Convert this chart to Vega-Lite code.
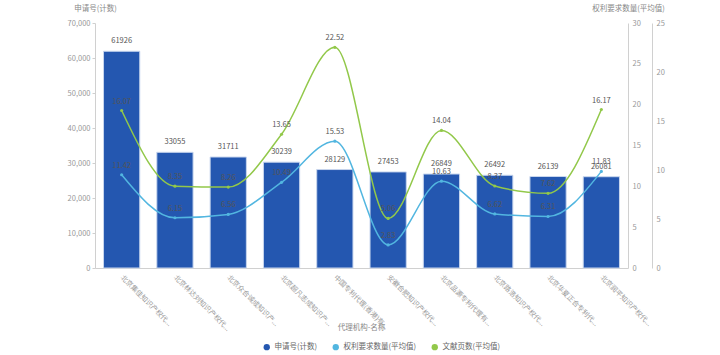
{
  "$schema": "https://vega.github.io/schema/vega-lite/v6.json",
  "width": 533,
  "height": 245,
  "autosize": "none",
  "padding": {"left": 95, "top": 23, "right": 92, "bottom": 87},
  "background": "white",
  "config": {
    "font": "Noto Sans CJK SC",
    "view": {"stroke": null},
    "axis": {"labelColor": "#999999", "titleColor": "#888888", "labelFontSize": 7.5, "titleFontSize": 7.5, "titleFontWeight": "normal", "domainColor": "#d0d0d0", "tickColor": "#d0d0d0", "grid": false}
  },
  "data": {
    "values": [
      {"name": "北京集佳知识产权代...", "count": 61926, "claims": 11.42, "pages": 16.07},
      {"name": "北京林达刘知识产权代...", "count": 33055, "claims": 6.15, "pages": 8.35},
      {"name": "北京众合诚成知识产...", "count": 31711, "claims": 6.56, "pages": 8.26},
      {"name": "北京超凡志成知识产...", "count": 30239, "claims": 10.49, "pages": 13.65},
      {"name": "中国专利代理(香港)有...", "count": 28129, "claims": 15.53, "pages": 22.52},
      {"name": "安徽合肥知识产权代...", "count": 27453, "claims": 2.83, "pages": 5.06},
      {"name": "北京品源专利代理有...", "count": 26849, "claims": 10.63, "pages": 14.04},
      {"name": "北京路浩知识产权代...", "count": 26492, "claims": 6.62, "pages": 8.37},
      {"name": "北京华夏正合专利代...", "count": 26139, "claims": 6.31, "pages": 7.62},
      {"name": "北京润平知识产权代...", "count": 26081, "claims": 11.83, "pages": 16.17}
    ]
  },
  "encoding": {
    "x": {
      "field": "name", "type": "nominal", "sort": null,
      "scale": {"paddingInner": 0.32, "paddingOuter": 0.16},
      "axis": {"title": "代理机构-名称", "labelAngle": 45, "labelAlign": "left", "labelBaseline": "middle", "labelFontSize": 7, "ticks": false, "labelPadding": 8, "titleX": 266, "titleY": 55, "titleAlign": "center", "labelLimit": 120}
    },
    "color": {
      "scale": {"domain": ["申请号(计数)", "权利要求数量(平均值)", "文献页数(平均值)"], "range": ["#2457b0", "#52b6e0", "#92c84a"]}
    }
  },
  "layer": [
    {
      "encoding": {
        "y": {"field": "count", "type": "quantitative", "scale": {"domain": [0, 70000]},
          "axis": {"orient": "left", "title": "申请号(计数)", "titleAngle": 0, "titleX": 0, "titleY": -11, "titleBaseline": "bottom", "titleAlign": "center", "tickCount": 7, "ticks": true, "tickSize": 3, "format": ",d"}}
      },
      "layer": [
        {"mark": {"type": "bar", "stroke": "#c8d6ee", "strokeWidth": 1},
         "encoding": {"color": {"datum": "申请号(计数)", "legend": {"orient": "none", "legendX": 168, "legendY": 320, "direction": "horizontal", "title": null, "symbolType": "circle", "symbolSize": 40, "symbolStrokeWidth": 0, "labelFontSize": 7.5, "labelColor": "#666666", "columnPadding": 14}}}},
        {"mark": {"type": "text", "dy": -6, "baseline": "bottom", "fontSize": 7.5, "color": "#555555"},
         "encoding": {"text": {"field": "count", "type": "quantitative", "format": "d"}}}
      ]
    },
    {
      "encoding": {
        "y": {"field": "claims", "type": "quantitative", "scale": {"domain": [0, 30]},
          "axis": {"orient": "right", "title": "权利要求数量(平均值)", "titleAngle": 0, "titleX": 0, "titleY": -11, "titleBaseline": "bottom", "titleAlign": "center", "tickCount": 6, "ticks": false, "labelPadding": 4}}
      },
      "layer": [
        {"mark": {"type": "line", "interpolate": "monotone", "strokeWidth": 1.5, "point": {"filled": true, "size": 10}},
         "encoding": {"color": {"datum": "权利要求数量(平均值)"}}},
        {"mark": {"type": "text", "dy": -5, "baseline": "bottom", "fontSize": 7.5, "color": "#555555"},
         "encoding": {"text": {"field": "claims", "type": "quantitative", "format": ".2f"}}}
      ]
    },
    {
      "encoding": {
        "y": {"field": "pages", "type": "quantitative", "scale": {"domain": [0, 25]},
          "axis": {"orient": "right", "title": null, "offset": 24, "tickCount": 5, "ticks": false, "labelPadding": 4}}
      },
      "layer": [
        {"mark": {"type": "line", "interpolate": "monotone", "strokeWidth": 1.5, "point": {"filled": true, "size": 10}},
         "encoding": {"color": {"datum": "文献页数(平均值)"}}},
        {"mark": {"type": "text", "dy": -5, "baseline": "bottom", "fontSize": 7.5, "color": "#555555"},
         "encoding": {"text": {"field": "pages", "type": "quantitative", "format": ".2f"}}}
      ]
    }
  ],
  "resolve": {"scale": {"y": "independent"}, "axis": {"y": "independent"}}
}
